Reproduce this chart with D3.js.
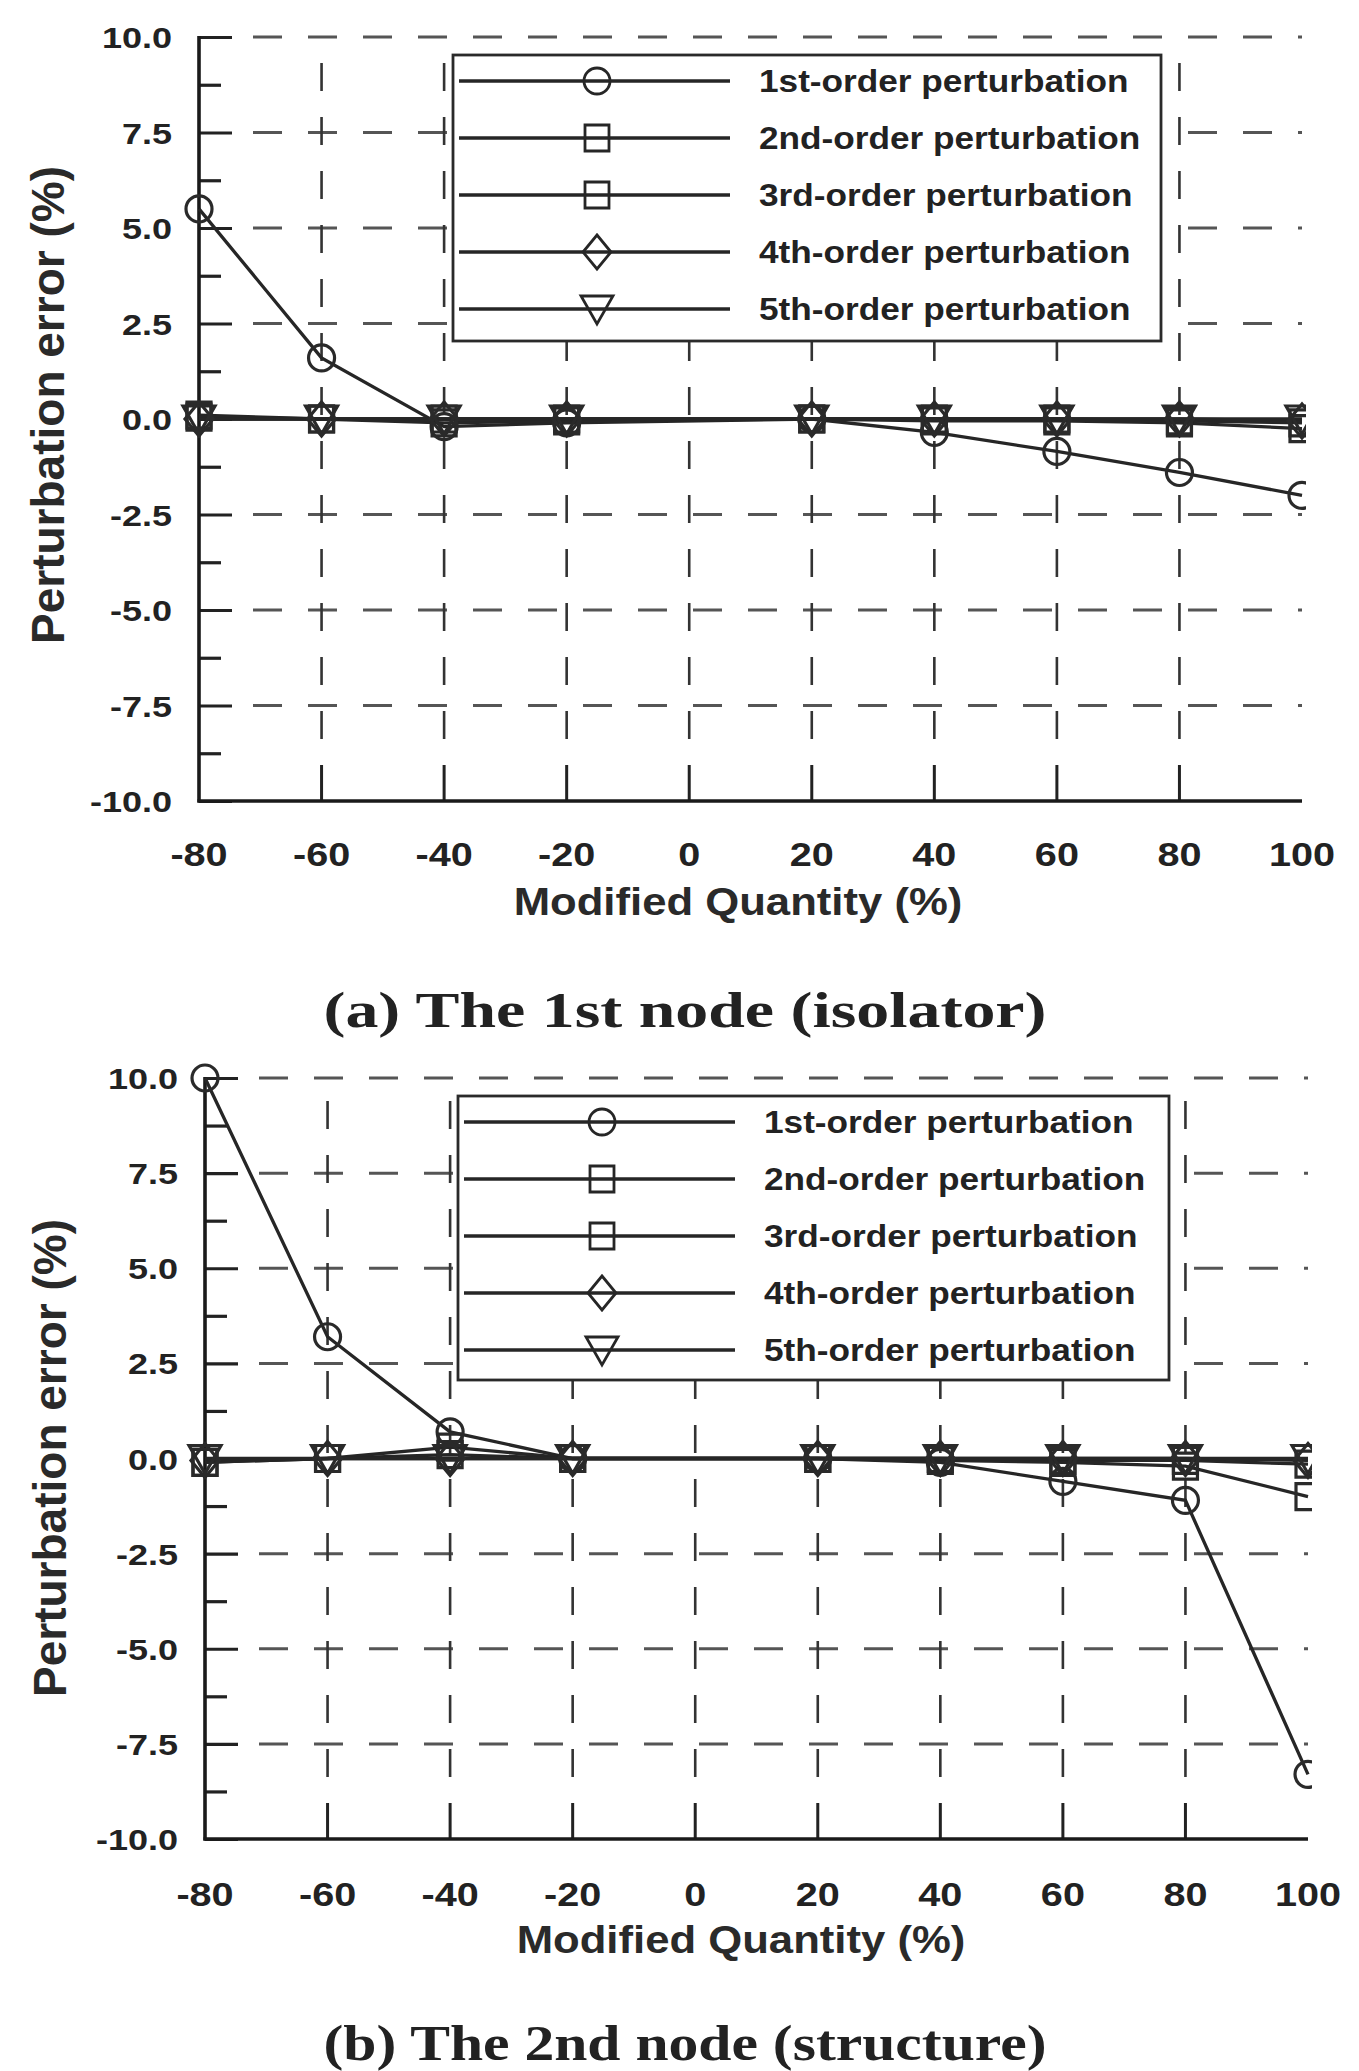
<!DOCTYPE html>
<html>
<head>
<meta charset="utf-8">
<script src="https://cdn.jsdelivr.net/npm/d3@7"></script>
<style>
  body { margin: 0; background: #fff; }
  svg { display: block; }
</style>
</head>
<body>
<div id="chart"></div>
<script>
// Perturbation error vs. modified quantity, two stacked panels
const modifiedQuantity = [-80, -60, -40, -20, 20, 40, 60, 80, 100];
const xTickValues = [-80, -60, -40, -20, 0, 20, 40, 60, 80, 100];
const yTickValues = [-10, -7.5, -5, -2.5, 0, 2.5, 5, 7.5, 10];
const seriesLabels = ["1st-order perturbation", "2nd-order perturbation", "3rd-order perturbation",
                      "4th-order perturbation", "5th-order perturbation"];
const seriesMarkers = ["circle", "square", "square", "diamond", "triangleDown"];

// (a) isolator
const isolator1st = [5.5, 1.6, -0.2, -0.1, 0.0, -0.35, -0.85, -1.4, -2.0];
const isolator2nd = [0.1, 0.0, -0.1, -0.05, 0.0, -0.05, -0.05, -0.1, -0.25];
const isolator3rd = [0.05, 0.0, 0.0, 0.0, 0.0, 0.0, 0.0, -0.05, -0.1];
const isolator4th = [0.0, 0.0, 0.0, 0.0, 0.0, 0.0, 0.0, 0.0, -0.05];
const isolator5th = [0.0, 0.0, 0.0, 0.0, 0.0, 0.0, 0.0, 0.0, 0.0];

// (b) structure
const structure1st = [10.0, 3.2, 0.7, 0.0, 0.0, -0.1, -0.6, -1.1, -8.3];
const structure2nd = [-0.1, 0.0, 0.3, 0.0, 0.0, -0.05, -0.1, -0.2, -1.0];
const structure3rd = [-0.1, 0.0, 0.1, 0.0, 0.0, 0.0, -0.05, -0.05, -0.15];
const structure4th = [-0.05, 0.0, 0.0, 0.0, 0.0, 0.0, 0.0, 0.0, -0.05];
const structure5th = [0.0, 0.0, 0.0, 0.0, 0.0, 0.0, 0.0, 0.0, 0.0];

const panelCaptions = ["(a) The 1st node (isolator)", "(b) The 2nd node (structure)"];
const xAxisTitle = "Modified Quantity (%)";
const yAxisTitle = "Perturbation error (%)";

const W = 1359, H = 2071;
const INK = "#222";
const SANS = "'Liberation Sans', Arial, sans-serif";

const svg = d3.select("#chart").append("svg")
  .attr("width", W).attr("height", H)
  .attr("viewBox", `0 0 ${W} ${H}`);

const panels = [
  { id: "a", left: 199, right: 1302, top: 37, bottom: 801,
    legend: { x: 453, y: 55, w: 708, h: 286 },
    xTickY: 866, xTitleX: 738, xTitleY: 915, yTitleX: 64, yTitleY: 405, captionY: 1027,
    caption: panelCaptions[0],
    series: [isolator1st, isolator2nd, isolator3rd, isolator4th, isolator5th] },
  { id: "b", left: 205, right: 1308, top: 1078, bottom: 1839,
    legend: { x: 458, y: 1096, w: 711, h: 284 },
    xTickY: 1906, xTitleX: 741, xTitleY: 1953, yTitleX: 66, yTitleY: 1458, captionY: 2060,
    caption: panelCaptions[1],
    series: [structure1st, structure2nd, structure3rd, structure4th, structure5th] }
];

function markerPath(kind) {
  const p = d3.path();
  if (kind === "circle") {
    p.moveTo(13, 0); p.arc(0, 0, 13, 0, 2 * Math.PI);
  } else if (kind === "square") {
    p.rect(-12, -13, 24, 26);
  } else if (kind === "diamond") {
    p.moveTo(0, -17); p.lineTo(14, 0); p.lineTo(0, 17); p.lineTo(-14, 0); p.closePath();
  } else {
    p.moveTo(-16, -13); p.lineTo(16, -13); p.lineTo(0, 15); p.closePath();
  }
  return p.toString();
}

// the scan's sans text is wide and heavy
function wideText(sel, x, y, str, size, anchor, sx) {
  return sel.append("text")
    .attr("transform", `translate(${x},${y}) scale(${sx},1)`)
    .attr("text-anchor", anchor)
    .attr("font-family", SANS)
    .attr("font-weight", "bold")
    .attr("font-size", size)
    .attr("fill", INK)
    .text(str);
}

const fmtY = v => d3.format(".1f")(v).replace("\u2212", "-");

function drawPanel(p) {
  const g = svg.append("g").attr("class", "panel-" + p.id);

  const x = d3.scaleLinear().domain([-80, 100]).range([p.left, p.right]);
  const y = d3.scaleLinear().domain([-10, 10]).range([p.bottom, p.top]);

  // dashed grid: horizontal
  const majorLen = 33, minorLen = 22;
  yTickValues.filter(v => v !== -10 && v !== 0).forEach(v => {
    g.append("line")
      .attr("x1", p.left + majorLen + 21).attr("x2", p.right)
      .attr("y1", y(v)).attr("y2", y(v))
      .attr("stroke", "#555").attr("stroke-width", 3)
      .attr("stroke-dasharray", "29,26");
  });
  // dashed grid: vertical, with a solid tick rising from the x-axis
  xTickValues.filter(v => v !== -80 && v !== 100).forEach(v => {
    g.append("line")
      .attr("x1", x(v)).attr("x2", x(v))
      .attr("y1", p.bottom).attr("y2", p.bottom - 36)
      .attr("stroke", "#222").attr("stroke-width", 3);
    g.append("line")
      .attr("x1", x(v)).attr("x2", x(v))
      .attr("y1", p.bottom - 36 - 26).attr("y2", p.top + 12)
      .attr("stroke", "#333").attr("stroke-width", 2.6)
      .attr("stroke-dasharray", "28,26");
  });

  // y-axis: major + minor inner ticks
  g.append("g")
    .attr("transform", `translate(${p.left},0)`)
    .call(d3.axisRight(y).tickValues(yTickValues).tickSize(majorLen).tickFormat(""))
    .call(a => a.select(".domain").remove())
    .call(a => a.selectAll("line").attr("stroke", "#222").attr("stroke-width", 3.2));
  const minorVals = d3.range(-8.75, 10, 2.5);
  g.append("g")
    .attr("transform", `translate(${p.left},0)`)
    .call(d3.axisRight(y).tickValues(minorVals).tickSize(minorLen).tickFormat(""))
    .call(a => a.select(".domain").remove())
    .call(a => a.selectAll("line").attr("stroke", "#222").attr("stroke-width", 3.2));

  // axis lines
  g.append("line").attr("x1", p.left).attr("x2", p.left)
    .attr("y1", p.top - 1).attr("y2", p.bottom + 1.5)
    .attr("stroke", "#1a1a1a").attr("stroke-width", 3.6);
  g.append("line").attr("x1", p.left - 1.5).attr("x2", p.right)
    .attr("y1", p.bottom).attr("y2", p.bottom)
    .attr("stroke", "#1a1a1a").attr("stroke-width", 3.6);

  // tick labels
  yTickValues.forEach(v => {
    wideText(g, p.left - 27, y(v) + 11, fmtY(v), 30, "end", 1.2);
  });
  xTickValues.forEach(v => {
    wideText(g, x(v), p.xTickY, String(v), 33, "middle", 1.2);
  });

  // titles
  wideText(g, p.xTitleX, p.xTitleY, xAxisTitle, 39, "middle", 1.12).attr("fill", "#2a2a2a");
  g.append("text")
    .attr("transform", `translate(${p.yTitleX},${p.yTitleY}) rotate(-90)`)
    .attr("text-anchor", "middle")
    .attr("font-family", SANS).attr("font-size", 46).attr("font-weight", "bold")
    .attr("fill", "#2a2a2a")
    .text(yAxisTitle);

  // series
  const clipId = "clip-" + p.id;
  g.append("clipPath").attr("id", clipId).append("rect")
    .attr("x", p.left - 40).attr("y", p.top - 40)
    .attr("width", p.right - p.left + 44).attr("height", p.bottom - p.top + 80);
  const plot = g.append("g").attr("clip-path", `url(#${clipId})`);

  const line = d3.line().x(d => x(d[0])).y(d => y(d[1]));
  p.series.forEach((vals, i) => {
    const pts = modifiedQuantity.map((q, k) => [q, vals[k]]);
    plot.append("path").datum(pts)
      .attr("d", line)
      .attr("fill", "none").attr("stroke", "#262626").attr("stroke-width", 3.3);
  });
  p.series.forEach((vals, i) => {
    const pts = modifiedQuantity.map((q, k) => [q, vals[k]]);
    plot.selectAll(".m" + i).data(pts).join("path")
      .attr("class", "m" + i)
      .attr("transform", d => `translate(${x(d[0])},${y(d[1])})`)
      .attr("d", markerPath(seriesMarkers[i]))
      .attr("fill", "none").attr("stroke", "#2a2a2a").attr("stroke-width", 3.2);
  });

  // legend
  const L = p.legend;
  const lg = g.append("g").attr("transform", `translate(${L.x},${L.y})`);
  lg.append("rect").attr("width", L.w).attr("height", L.h)
    .attr("fill", "#fff").attr("stroke", "#2a2a2a").attr("stroke-width", 2.8);
  seriesLabels.forEach((s, i) => {
    const ry = 26 + i * 57;
    lg.append("line").attr("x1", 6).attr("x2", 277).attr("y1", ry).attr("y2", ry)
      .attr("stroke", "#262626").attr("stroke-width", 3.4);
    lg.append("path").attr("transform", `translate(144,${ry})`)
      .attr("d", markerPath(seriesMarkers[i]))
      .attr("fill", "none").attr("stroke", "#262626").attr("stroke-width", 2.8);
    wideText(lg, 306, ry + 11, s, 32, "start", 1.1);
  });

  // caption
  svg.append("text")
    .attr("x", 685).attr("y", p.captionY)
    .attr("text-anchor", "middle")
    .attr("font-family", "'Liberation Serif', 'DejaVu Serif', serif")
    .attr("font-weight", "bold").attr("font-size", 50)
    .attr("fill", "#222")
    .attr("textLength", 723).attr("lengthAdjust", "spacingAndGlyphs")
    .text(p.caption);
}

panels.forEach(drawPanel);
</script>
</body>
</html>
